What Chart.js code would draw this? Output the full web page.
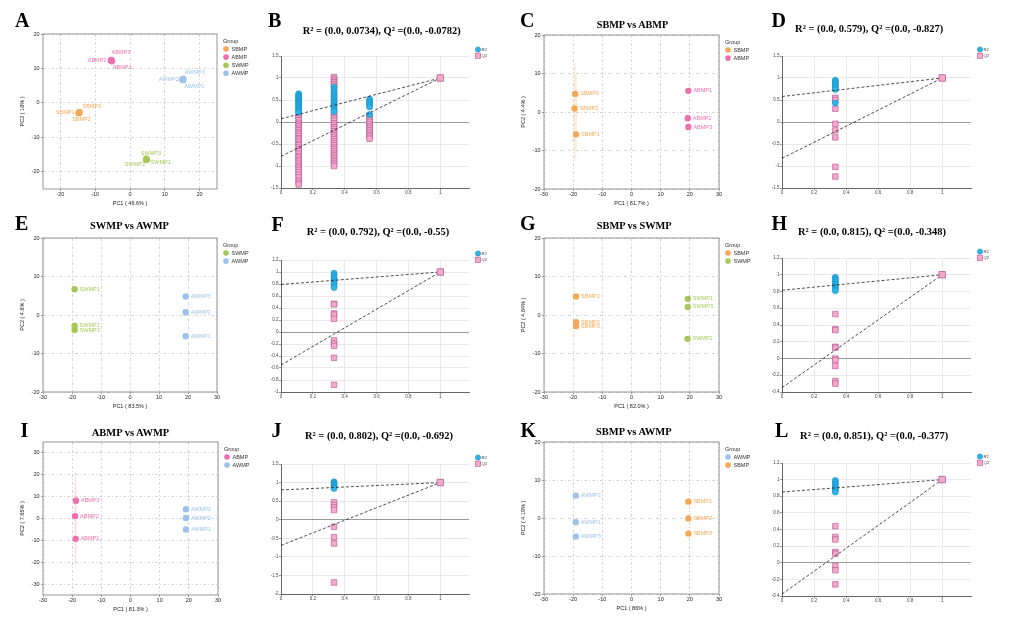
<!DOCTYPE html>
<html><head><meta charset="utf-8">
<script src="https://cdn.jsdelivr.net/npm/chart.js@4.4.1/dist/chart.umd.min.js"></script>
<style>
html,body{margin:0;padding:0;background:#fff;width:1009px;height:621px;overflow:hidden;position:relative}
canvas{position:absolute}
.lt,.tt{position:absolute;font-family:"Liberation Serif","Times New Roman",serif;font-weight:bold;color:#000;line-height:1;white-space:nowrap;transform:translateY(-50%);z-index:5}
</style></head><body>
<script>
// ================= DATA =================
// Panel A : PCA, all four groups
const A_samples = ['SBMP1','SBMP2','SBMP3','ABMP1','ABMP2','ABMP3','SWMP1','SWMP2','SWMP3','AWMP1','AWMP2','AWMP3'];
const A_pc1 = [-14.8,-14.6,-14.5,-5.2,-5.5,-5.3,4.9,4.6,4.7,15.3,15.0,15.3];
const A_pc2 = [-2.9,-3.0,-2.6,12.1,12.3,12.5,-16.5,-16.5,-16.2,6.6,6.8,7.0];
const A_groups = ['SBMP','ABMP','SWMP','AWMP'];
const A_axisTitles = ['PC1 ( 46.6% )','PC2 ( 18% )'];

// Panel C : SBMP vs ABMP
const C_samples = ['SBMP1','SBMP2','SBMP3','ABMP1','ABMP2','ABMP3'];
const C_pc1 = [-19.0,-19.5,-19.3,19.5,19.3,19.5];
const C_pc2 = [-5.8,0.9,4.7,5.5,-1.6,-3.9];
const C_groups = ['SBMP','ABMP'];
const C_axisTitles = ['PC1 ( 81.7% )','PC2 ( 4.4% )'];

// Panel E : SWMP vs AWMP
const E_samples = ['SWMP1','SWMP2','SWMP3','AWMP1','AWMP2','AWMP3'];
const E_pc1 = [-19.1,-19.1,-19.1,19.2,19.2,19.2];
const E_pc2 = [6.7,-2.8,-3.9,-5.5,0.7,4.8];
const E_groups = ['SWMP','AWMP'];
const E_axisTitles = ['PC1 ( 83.5% )','PC2 ( 4.6% )'];

// Panel G : SBMP vs SWMP
const G_samples = ['SBMP1','SBMP2','SBMP3','SWMP1','SWMP2','SWMP3'];
const G_pc1 = [-19.0,-19.0,-19.0,19.3,19.2,19.3];
const G_pc2 = [4.8,-1.9,-2.9,4.2,-6.2,2.1];
const G_groups = ['SBMP','SWMP'];
const G_axisTitles = ['PC1 ( 82.0% )','PC2 ( 4.84% )'];

// Panel I : ABMP vs AWMP
const I_samples = ['ABMP1','ABMP2','ABMP3','AWMP1','AWMP2','AWMP3'];
const I_pc1 = [-18.8,-19.0,-18.7,19.0,19.0,19.0];
const I_pc2 = [-9.3,1.1,8.1,-5.0,0.2,4.2];
const I_groups = ['ABMP','AWMP'];
const I_axisTitles = ['PC1 ( 81.3% )','PC2 ( 7.65% )'];

// Panel K : SBMP vs AWMP
const K_samples = ['AWMP1','AWMP2','AWMP3','SBMP1','SBMP2','SBMP3'];
const K_pc1 = [-19.1,-19.1,-19.1,19.5,19.5,19.5];
const K_pc2 = [-1.1,5.9,-4.9,4.3,-0.1,-4.1];
const K_groups = ['AWMP','SBMP'];
const K_axisTitles = ['PC1 ( 86% )','PC2 ( 4.19% )'];

const PCA_TITLES = {C:'SBMP vs ABMP', E:'SWMP vs AWMP', G:'SBMP vs SWMP', I:'ABMP vs AWMP', K:'SBMP vs AWMP'};

// Permutation tests (x = retained-correlation, R2 / Q2 values)
const PERM_X_TICKS = [0,0.2,0.4,0.6,0.8,1];

const B_permX = [0.111,0.333,0.556];
const B_R2 = [
  [0.64,0.62,0.59,0.57,0.55,0.52,0.5,0.47,0.45,0.43,0.4,0.38,0.35,0.33,0.3,0.28,0.25,0.22],
  [0.79,0.74,0.7,0.66,0.62,0.58,0.55,0.51,0.48,0.45,0.42,0.38,0.35,0.31,0.27,0.24],
  [0.52,0.48,0.45,0.41,0.38,0.34,0.17]
];
const B_Q2 = [
  [0.17,0.13,0.08,0.04,-0.02,-0.06,-0.1,-0.15,-0.19,-0.24,-0.27,-0.32,-0.37,-0.4,-0.45,-0.5,-0.53,-0.58,-0.63,-0.67,-0.72,-0.78,-0.81,-0.86,-0.9,-0.95,-1.0,-1.04,-1.09,-1.14,-1.2,-1.26,-1.33,-1.38,-1.42],
  [1.02,0.98,0.94,0.9,0.86,0.82,0.6,0.4,0.22,0.17,0.12,0.08,0.03,-0.03,-0.07,-0.12,-0.16,-0.21,-0.26,-0.3,-0.35,-0.39,-0.44,-0.49,-0.53,-0.58,-0.62,-0.67,-0.72,-0.76,-0.81,-0.86,-0.9,-0.95,-1.0],
  [0.14,0.1,0.05,0.0,-0.05,-0.1,-0.14,-0.19,-0.24,-0.29,-0.33,-0.38]
];
const B_intercepts = [0.0734,-0.78];
const B_yTicks = [-1.5,-1,-0.5,0,0.5,1,1.5];

const D_permX = [0.333];
const D_R2 = [[0.95,0.92,0.89,0.86,0.83,0.8,0.77,0.74,0.43]];
const D_Q2 = [[0.55,0.5,0.3,-0.04,-0.19,-0.35,-1.02,-1.24]];
const D_intercepts = [0.579,-0.827];
const D_yTicks = [-1.5,-1,-0.5,0,0.5,1,1.5];

const F_permX = [0.333];
const F_R2 = [[0.98,0.95,0.92,0.89,0.86,0.83,0.8,0.77,0.74]];
const F_Q2 = [[0.47,0.46,0.31,0.29,0.22,-0.14,-0.19,-0.23,-0.43,-0.88]];
const F_intercepts = [0.792,-0.55];
const F_yTicks = [-1,-0.8,-0.6,-0.4,-0.2,0,0.2,0.4,0.6,0.8,1,1.2];

const H_permX = [0.333];
const H_R2 = [[0.97,0.95,0.93,0.91,0.89,0.87,0.85,0.83,0.81]];
const H_Q2 = [[0.53,0.35,0.34,0.14,0.13,0.0,-0.02,-0.09,-0.27,-0.3]];
const H_intercepts = [0.815,-0.348];
const H_yTicks = [-0.4,-0.2,0,0.2,0.4,0.6,0.8,1,1.2];

const J_permX = [0.333];
const J_R2 = [[1.02,0.99,0.96,0.93,0.9,0.87,0.84]];
const J_Q2 = [[0.47,0.4,0.33,0.26,-0.19,-0.47,-0.64,-1.69]];
const J_intercepts = [0.802,-0.692];
const J_yTicks = [-2,-1.5,-1,-0.5,0,0.5,1,1.5];

const L_permX = [0.333];
const L_R2 = [[0.99,0.97,0.95,0.93,0.91,0.89,0.87,0.85]];
const L_Q2 = [[0.44,0.31,0.28,0.13,0.11,-0.04,-0.09,-0.26]];
const L_intercepts = [0.851,-0.377];
const L_yTicks = [-0.4,-0.2,0,0.2,0.4,0.6,0.8,1,1.2];

const ORIGINAL_MODEL = [1, 1]; // R2, Q2 at x = 1

const PERM_TITLES = {
  B:'R² = (0.0, 0.0734), Q² =(0.0, -0.0782)',
  D:'R² = (0.0, 0.579), Q² =(0.0, -0.827)',
  F:'R² = (0.0, 0.792), Q² =(0.0, -0.55)',
  H:'R² = (0.0, 0.815), Q² =(0.0, -0.348)',
  J:'R² = (0.0, 0.802), Q² =(0.0, -0.692)',
  L:'R² = (0.0, 0.851), Q² =(0.0, -0.377)'
};
const PERM_LEGEND = ['R2','Q2'];

// ================= STYLE / LAYOUT =================
const COLORS = {SBMP:'#F5A857', ABMP:'#EE6FAE', SWMP:'#A6C95C', AWMP:'#9EC3EA'};
const R2_FILL='#2AB6EA', R2_EDGE='#1B8FC4', Q2_FILL='#F5A9CB', Q2_EDGE='#B25390';
const FONT = '"Liberation Sans", Arial, sans-serif';
Chart.defaults.font.family = FONT;
Chart.defaults.animation = false;

// label offsets for panel A ([dx, dy, align]) in sample order
const A_labelLayout = [[-4,0,'right'],[-7,6.4,'left'],[3,-5,'left'],[1,6,'left'],[-4.5,0,'right'],[0,-7,'left'],
  [3.5,3,'left'],[-1,5,'right'],[-5.5,-5,'left'],[1,6,'left'],[-3.5,0,'right'],[1.5,-6,'left']];

const LETTERS = [['A',15,20],['B',268,20],['C',520,20],['D',771.5,20],['E',15,222.5],['F',271.5,223.5],
  ['G',520,222.5],['H',771.5,222.5],['I',20.5,429.5],['J',271.5,429.5],['K',520.5,430],['L',775,430]];
const TITLE_POS = {B:[381.7,30.7,158],C:[632.5,25,71.6],D:[869.2,29.3,148.3],E:[129.5,226,79],F:[378,231.7,142.6],
  G:[634.2,226,75],H:[872,232.3,148],I:[130.5,432.7,77.6],J:[379,436,148],K:[633.8,431.7,75.7],L:[874.2,436,148.3]};

function groupOf(n){return n.replace(/\d+$/,'');}
function hexA(h,a){const v=parseInt(h.slice(1),16);return `rgba(${v>>16&255},${v>>8&255},${v&255},${a})`;}

const deco = {
  id:'deco',
  beforeDatasetsDraw(chart){
    const d = chart.canvas.deco; if(!d || d.type!=='pca' || !d.ellipse) return;
    const {ctx, scales:{x,y}} = chart;
    const ds = chart.data.datasets.find(s=>s.label===d.ellipse);
    const xs = ds.data.map(p=>p.x), ys = ds.data.map(p=>p.y);
    const m = a=>a.reduce((s,v)=>s+v,0)/a.length;
    const sd = a=>{const mm=m(a);return Math.sqrt(a.reduce((s,v)=>s+(v-mm)**2,0)/(a.length-1));};
    const k = 2.45;
    const cx = x.getPixelForValue(m(xs)), cy = y.getPixelForValue(m(ys));
    const rx = Math.abs(x.getPixelForValue(m(xs)+k*sd(xs))-cx);
    const ry = Math.abs(y.getPixelForValue(m(ys)+k*sd(ys))-cy);
    ctx.save(); ctx.fillStyle = hexA(COLORS[d.ellipse],0.22);
    ctx.beginPath(); ctx.ellipse(cx,cy,Math.max(rx,1),ry,0,0,Math.PI*2); ctx.fill(); ctx.restore();
  },
  afterDraw(chart){
    const d = chart.canvas.deco; if(!d) return;
    const {ctx, chartArea:a} = chart;
    ctx.save();
    if (d.type==='pca'){
      ctx.strokeStyle='#8c8c8c'; ctx.lineWidth=0.9;
      ctx.strokeRect(a.left,a.top,a.right-a.left,a.bottom-a.top);
      ctx.font = '5.5px '+FONT; ctx.textBaseline='middle';
      chart.data.datasets.forEach((ds,di)=>{
        const meta = chart.getDatasetMeta(di);
        ctx.fillStyle = ds.backgroundColor;
        ds.data.forEach((p,i)=>{
          const el = meta.data[i]; const lp = p.lp || [5,0,'left'];
          ctx.textAlign = lp[2]; ctx.fillText(p.name, el.x+lp[0], el.y+lp[1]);
        });
      });
      ctx.textAlign='left'; ctx.fillStyle='#333';
      ctx.fillText('Group', a.right+6, a.top+7.5);
      d.groups.forEach((g,i)=>{
        const yy = a.top+15+i*8.1;
        ctx.fillStyle=COLORS[g]; ctx.beginPath(); ctx.arc(a.right+9,yy,2.8,0,Math.PI*2); ctx.fill();
        ctx.fillStyle='#333'; ctx.fillText(g, a.right+14.5, yy);
      });
      ctx.fillStyle='#222'; ctx.textAlign='center';
      ctx.fillText(d.titles[0], (a.left+a.right)/2, a.bottom+14.5);
      ctx.translate(a.left-21,(a.top+a.bottom)/2); ctx.rotate(-Math.PI/2);
      ctx.fillText(d.titles[1],0,0);
    } else {
      const x0 = a.right+9, y0 = a.top-6.5;
      ctx.lineWidth=0.6; ctx.font='4.2px '+FONT; ctx.textBaseline='middle'; ctx.textAlign='left';
      ctx.fillStyle=R2_FILL; ctx.strokeStyle=R2_EDGE;
      ctx.beginPath(); ctx.arc(x0,y0,2.6,0,Math.PI*2); ctx.fill(); ctx.stroke();
      ctx.fillStyle=Q2_FILL; ctx.strokeStyle=Q2_EDGE;
      ctx.fillRect(x0-2.6,y0+6.2-2.6,5.2,5.2); ctx.strokeRect(x0-2.6,y0+6.2-2.6,5.2,5.2);
      ctx.fillStyle='#444';
      ctx.fillText(PERM_LEGEND[0], x0+3.5, y0); ctx.fillText(PERM_LEGEND[1], x0+3.5, y0+6.2);
    }
    ctx.restore();
  }
};
Chart.register(deco);

function makeCanvas(plot,pad){
  const c=document.createElement('canvas');
  const l=Math.round(plot[0]), t=Math.round(plot[1]), r=Math.round(plot[2]), b=Math.round(plot[3]);
  const w=r-l+pad.l+pad.r, h=b-t+pad.t+pad.b;
  c.width=w; c.height=h;
  c.style.left=(l-pad.l)+'px'; c.style.top=(t-pad.t)+'px';
  c.style.width=w+'px'; c.style.height=h+'px';
  document.body.appendChild(c); return c;
}
const fmt = v => String(+(+v).toFixed(2));

function pcaChart(p){
  const pad={l:26,t:6,r:36,b:20};
  const c=makeCanvas(p.plot,pad);
  c.deco={type:'pca',groups:p.groups,titles:p.titles,ellipse:p.ellipse};
  const datasets=p.groups.map(g=>{
    const idx=p.samples.map((s,i)=>i).filter(i=>groupOf(p.samples[i])===g);
    return {label:g, data:idx.map(i=>({x:p.pc1[i],y:p.pc2[i],name:p.samples[i],lp:p.labels?p.labels[i]:null})),
      backgroundColor:COLORS[g], borderWidth:0, pointRadius:3.2, pointHoverRadius:3.2};
  });
  const axis=(ticks,rng,isX)=>({type:'linear',min:rng[0],max:rng[1],
    afterFit:s=>{ if(isX) s.height=pad.b; else s.width=pad.l; },
    afterBuildTicks:s=>{s.ticks=ticks.map(v=>({value:v}));},
    grid:{color:'#c4c4c4',lineWidth:0.7,tickLength:2,tickColor:'#777',tickWidth:0.7},
    border:{display:false,dash:[3,2,1,2]},
    ticks:{font:{size:5.5},color:'#222',padding:isX?0.5:1.5,maxRotation:0,autoSkip:false,callback:fmt}});
  new Chart(c,{type:'scatter',data:{datasets},options:{responsive:false,animation:false,events:[],
    layout:{padding:{top:pad.t,right:pad.r,left:0,bottom:0}},
    plugins:{legend:{display:false},tooltip:{enabled:false}},
    scales:{x:axis(p.xTicks,p.xRange,true),y:axis(p.yTicks,p.yRange,false)}}});
}

function permChart(p){
  const pad={l:13,t:10,r:28,b:10};
  const c=makeCanvas(p.plot,pad);
  c.deco={type:'perm'};
  const r2=[],q2=[];
  p.xs.forEach((xv,ci)=>{ p.r2[ci].forEach(v=>r2.push({x:xv,y:v})); p.q2[ci].forEach(v=>q2.push({x:xv,y:v})); });
  const line=(i,orig)=>({data:[{x:0,y:p.icpt[i]},{x:1,y:orig}],showLine:true,borderColor:'#222',borderWidth:0.8,borderDash:[3,2],pointRadius:0});
  const datasets=[
    {data:[{x:1,y:ORIGINAL_MODEL[1]}],pointStyle:'rect',pointRadius:4.6,backgroundColor:Q2_FILL,borderColor:Q2_EDGE,borderWidth:0.7},
    {data:[{x:1,y:ORIGINAL_MODEL[0]}],pointStyle:'circle',pointRadius:3,backgroundColor:R2_FILL,borderColor:R2_EDGE,borderWidth:0.6},
    line(0,ORIGINAL_MODEL[0]), line(1,ORIGINAL_MODEL[1]),
    {data:r2,pointStyle:'circle',pointRadius:3,backgroundColor:R2_FILL,borderColor:R2_EDGE,borderWidth:0.6},
    {data:q2,pointStyle:'rect',pointRadius:3.9,backgroundColor:Q2_FILL,borderColor:Q2_EDGE,borderWidth:0.6}
  ];
  const yt=p.yTicks;
  new Chart(c,{type:'scatter',data:{datasets},options:{responsive:false,animation:false,events:[],
    layout:{padding:{top:pad.t,right:pad.r,left:0,bottom:0}},
    plugins:{legend:{display:false},tooltip:{enabled:false}},
    scales:{
      x:{type:'linear',min:0,max:1.18,afterFit:s=>{s.height=pad.b;},
        afterBuildTicks:s=>{s.ticks=PERM_X_TICKS.map(v=>({value:v}));},
        grid:{color:'#e0e0e0',lineWidth:0.7,tickLength:2,tickColor:'#555',tickWidth:0.6},
        border:{display:true,color:'#444',width:0.8},
        ticks:{font:{size:4.5},color:'#444',padding:0.5,maxRotation:0,autoSkip:false,callback:fmt}},
      y:{type:'linear',min:yt[0],max:yt[yt.length-1],afterFit:s=>{s.width=pad.l;},
        afterBuildTicks:s=>{s.ticks=yt.map(v=>({value:v}));},
        grid:{color:ctx=>ctx.tick&&ctx.tick.value===0?'#9a9a9a':'#e0e0e0',lineWidth:ctx=>ctx.tick&&ctx.tick.value===0?1:0.7,
          tickLength:2,tickColor:'#555',tickWidth:0.6},
        border:{display:true,color:'#444',width:0.8},
        ticks:{font:{size:4.5},color:'#444',padding:0.5,autoSkip:false,callback:fmt}}
    }}});
}

const T30=[-30,-20,-10,0,10,20,30], T20=[-20,-10,0,10,20];
pcaChart({plot:[43,34,217,188.5],samples:A_samples,pc1:A_pc1,pc2:A_pc2,groups:A_groups,titles:A_axisTitles,labels:A_labelLayout,
  xTicks:T20,yTicks:T20,xRange:[-25,25],yRange:[-25,20]});
pcaChart({plot:[543.5,35,718.5,189.3],samples:C_samples,pc1:C_pc1,pc2:C_pc2,groups:C_groups,titles:C_axisTitles,ellipse:'SBMP',
  xTicks:T30,yTicks:T20,xRange:[-30,30],yRange:[-20,20]});
pcaChart({plot:[42.7,238.3,217.3,391.7],samples:E_samples,pc1:E_pc1,pc2:E_pc2,groups:E_groups,titles:E_axisTitles,
  xTicks:T30,yTicks:T20,xRange:[-30,30],yRange:[-20,20]});
pcaChart({plot:[544,238.3,719.3,391.7],samples:G_samples,pc1:G_pc1,pc2:G_pc2,groups:G_groups,titles:G_axisTitles,
  xTicks:T30,yTicks:T20,xRange:[-30,30],yRange:[-20,20]});
pcaChart({plot:[42.7,441.7,218,595],samples:I_samples,pc1:I_pc1,pc2:I_pc2,groups:I_groups,titles:I_axisTitles,ellipse:'ABMP',
  xTicks:T30,yTicks:T30,xRange:[-30,30],yRange:[-35,35]});
pcaChart({plot:[544,441.7,719.3,594.3],samples:K_samples,pc1:K_pc1,pc2:K_pc2,groups:K_groups,titles:K_axisTitles,
  xTicks:T30,yTicks:T20,xRange:[-30,30],yRange:[-20,20]});

permChart({plot:[280.7,56.3,468.7,188.3],xs:B_permX,r2:B_R2,q2:B_Q2,icpt:B_intercepts,yTicks:B_yTicks});
permChart({plot:[782.3,56.3,971.3,188.3],xs:D_permX,r2:D_R2,q2:D_Q2,icpt:D_intercepts,yTicks:D_yTicks});
permChart({plot:[280.7,260.3,468.7,392.3],xs:F_permX,r2:F_R2,q2:F_Q2,icpt:F_intercepts,yTicks:F_yTicks});
permChart({plot:[782.3,258.3,971.3,391.7],xs:H_permX,r2:H_R2,q2:H_Q2,icpt:H_intercepts,yTicks:H_yTicks});
permChart({plot:[280.7,463.7,468.7,594.3],xs:J_permX,r2:J_R2,q2:J_Q2,icpt:J_intercepts,yTicks:J_yTicks});
permChart({plot:[782.3,462.7,971.3,595.7],xs:L_permX,r2:L_R2,q2:L_Q2,icpt:L_intercepts,yTicks:L_yTicks});

// letters and titles
LETTERS.forEach(([t,x,y])=>{
  const d=document.createElement('div'); d.className='lt'; d.textContent=t;
  d.style.fontSize='20px'; d.style.left=x+'px'; d.style.top=y+'px'; document.body.appendChild(d);
});
const ALL_TITLES = Object.assign({}, PCA_TITLES, PERM_TITLES);
Object.keys(ALL_TITLES).forEach(k=>{
  const [cx,cy,tw]=TITLE_POS[k];
  const d=document.createElement('div'); d.className='tt'; d.textContent=ALL_TITLES[k];
  d.style.fontSize='10.5px'; document.body.appendChild(d);
  const w=d.getBoundingClientRect().width;
  const fs=10.5*tw/w; d.style.fontSize=fs.toFixed(2)+'px';
  const w2=d.getBoundingClientRect().width;
  d.style.left=(cx-w2/2)+'px'; d.style.top=cy+'px';
});
</script>
</body></html>
